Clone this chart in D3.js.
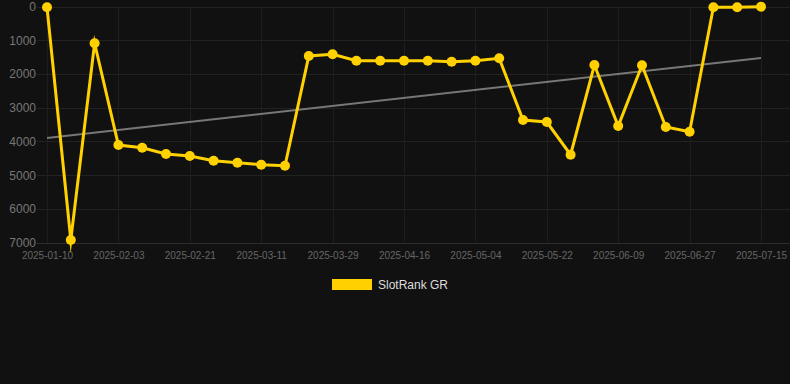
<!DOCTYPE html>
<html>
<head>
<meta charset="utf-8">
<script src="https://cdn.jsdelivr.net/npm/d3@7/dist/d3.min.js"></script>
<style>
  html, body { margin: 0; padding: 0; background: #111111; }
  svg { display: block; }
</style>
</head>
<body>
<svg id="chart" width="790" height="384"></svg>
<script>
const dates = [
  "2025-01-10","2025-01-22","2025-01-28","2025-02-03","2025-02-09","2025-02-15",
  "2025-02-21","2025-02-27","2025-03-05","2025-03-11","2025-03-17","2025-03-23",
  "2025-03-29","2025-04-04","2025-04-10","2025-04-16","2025-04-22","2025-04-28",
  "2025-05-04","2025-05-10","2025-05-16","2025-05-22","2025-05-28","2025-06-03",
  "2025-06-09","2025-06-15","2025-06-21","2025-06-27","2025-07-03","2025-07-09",
  "2025-07-15"
];
const rankValues = [
  24, 6920, 1090, 4105, 4185, 4372,
  4431, 4570, 4630, 4689, 4718, 1467,
  1417, 1606, 1606, 1606, 1606, 1636,
  1606, 1535, 3364, 3423, 4392, 1734,
  3542, 1743, 3571, 3711, 24, 24,
  6
];
const trendValues = [3895, 1525];
const yTicks = [0, 1000, 2000, 3000, 4000, 5000, 6000, 7000];
const seriesName = "SlotRank GR";

const svg = d3.select("#chart");
const font = "'Liberation Sans', Arial, sans-serif";
const yellow = "#ffd100";

const x = d3.scalePoint().domain(dates).range([47, 761]);
const y = d3.scaleLinear().domain([0, 7000]).range([6.5, 242.7]);

// horizontal grid
svg.append("g").selectAll("line").data(yTicks).join("line")
  .attr("x1", 37).attr("x2", 790)
  .attr("y1", d => Math.round(y(d)) + 0.5).attr("y2", d => Math.round(y(d)) + 0.5)
  .attr("stroke", d => d === 7000 ? "#2e2e2e" : "#222222").attr("stroke-width", 1);

// vertical grid at labelled categories
const labelDates = dates.filter((d, i) => i % 3 === 0);
svg.append("g").selectAll("line").data(labelDates).join("line")
  .attr("x1", d => Math.round(x(d)) + 0.5).attr("x2", d => Math.round(x(d)) + 0.5)
  .attr("y1", 6).attr("y2", 243)
  .attr("stroke", "#1e1e1e").attr("stroke-width", 1);

// y axis labels
const yAxis = d3.axisLeft(y).tickValues(yTicks).tickFormat(d3.format("d")).tickSize(0).tickPadding(0);
const yg = svg.append("g").attr("transform", "translate(36,0)").call(yAxis);
yg.select(".domain").remove();
yg.selectAll("text").attr("fill", "#777777").style("font-family", font).style("font-size", "12px");

// x axis labels
const xAxis = d3.axisBottom(x).tickValues(labelDates).tickSize(0).tickPadding(0);
const xg = svg.append("g").attr("transform", "translate(0,252)").call(xAxis);
xg.select(".domain").remove();
xg.selectAll("text").attr("fill", "#666666").style("font-family", font).style("font-size", "10px");

// trend line
svg.append("line")
  .attr("x1", x(dates[0])).attr("y1", y(trendValues[0]))
  .attr("x2", x(dates[dates.length - 1])).attr("y2", y(trendValues[1]))
  .attr("stroke", "#777777").attr("stroke-width", 2);

// series line
const line = d3.line().x((d, i) => x(dates[i])).y(d => y(d));
svg.append("path").datum(rankValues)
  .attr("d", line)
  .attr("fill", "none").attr("stroke", yellow).attr("stroke-width", 3)
  .attr("stroke-linejoin", "miter").attr("stroke-miterlimit", 10);

// markers
svg.append("g").selectAll("circle").data(rankValues).join("circle")
  .attr("cx", (d, i) => x(dates[i])).attr("cy", d => y(d))
  .attr("r", 5).attr("fill", yellow);

// legend
const lg = svg.append("g");
lg.append("rect").attr("x", 332).attr("y", 279).attr("width", 40).attr("height", 11).attr("fill", yellow);
lg.append("text").attr("x", 378).attr("y", 289).text(seriesName)
  .attr("fill", "#dddddd").style("font-family", font).style("font-size", "12px");
</script>
</body>
</html>
